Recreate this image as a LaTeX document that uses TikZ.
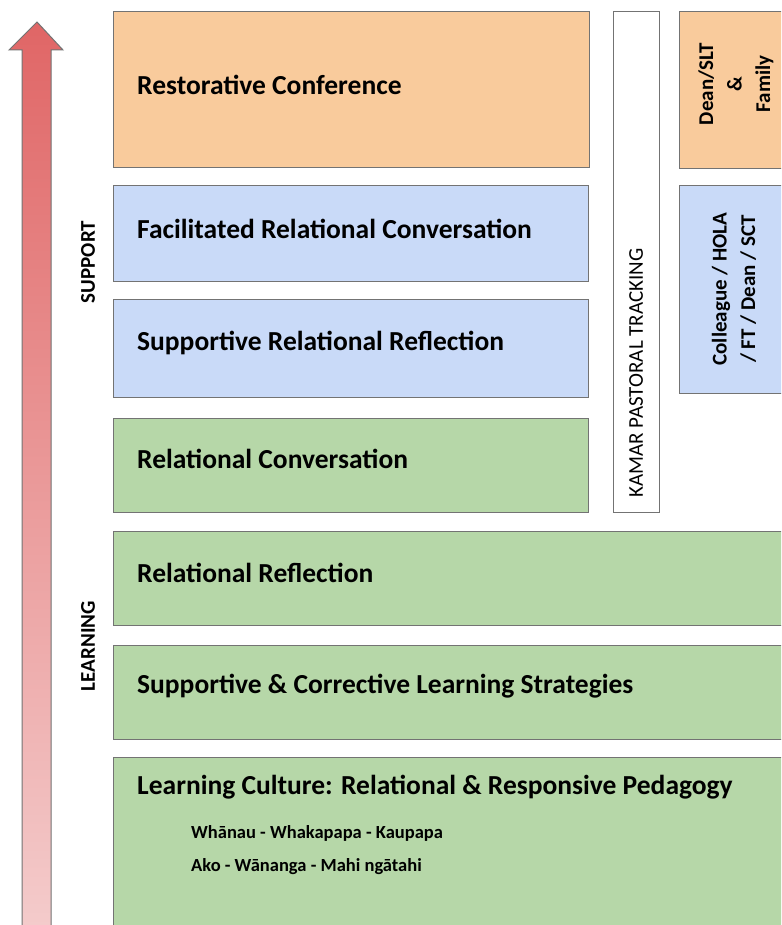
\documentclass[tikz,border=0pt]{standalone}
\usepackage{fontspec}
\setmainfont{Carlito}
\usetikzlibrary{positioning}
\definecolor{peach}{HTML}{F9CB9C}
\definecolor{skyblue}{HTML}{C9DAF8}
\definecolor{sage}{HTML}{B6D7A8}
\definecolor{rose}{HTML}{E06666}
\definecolor{blush}{HTML}{F4CCCC}
\begin{document}
\begin{tikzpicture}[x=1pt,y=-1pt,
  band/.style={draw=black!55, line width=1.2pt, anchor=north west, inner sep=0pt},
  title/.style={anchor=west, inner sep=0pt, font=\fontsize{27.5}{32}\selectfont\bfseries},
  motto/.style={anchor=west, inner sep=0pt, font=\fontsize{18.5}{22}\selectfont\bfseries},
  side/.style={rotate=90, align=center, font=\fontsize{21}{28.5}\selectfont\bfseries}]
\fill[white] (0,0) rectangle (781,925);
\path[use as bounding box, clip] (0,0) rectangle (781,925);
\shade[top color=rose, bottom color=blush, draw=black!55, line width=1pt]
  (22,935) -- (22,50) -- (9,50) -- (37,22) -- (63,50) -- (51,50) -- (51,935) -- cycle;
\node[side] (support) at (88,262) {SUPPORT};
\node[side] (learning) at (88,646) {LEARNING};
\node[band, fill=peach, minimum width=476pt, minimum height=156pt] (rc) at (113,11) {};
\node[band, fill=skyblue, minimum width=475pt, minimum height=96pt] (frc) at (113,185) {};
\node[band, fill=skyblue, minimum width=475pt, minimum height=98pt] (srr) at (113,299) {};
\node[band, fill=sage, minimum width=475pt, minimum height=94pt] (rcv) at (113,418) {};
\node[band, fill=white, minimum width=46pt, minimum height=501pt] (kamar) at (613,11) {};
\node[band, fill=peach, minimum width=130pt, minimum height=157pt] (dean) at (679,11) {};
\node[band, fill=skyblue, minimum width=130pt, minimum height=208pt] (coll) at (679,185) {};
\node[band, fill=sage, minimum width=700pt, minimum height=94pt] (rr) at (113,531) {};
\node[band, fill=sage, minimum width=700pt, minimum height=94pt] (scl) at (113,645) {};
\node[band, fill=sage, minimum width=700pt, minimum height=200pt] (lc) at (113,757) {};
\node[title] (trc) at (137,85) {Restorative Conference};
\node[title] (tfrc) at (137,229) {Facilitated Relational Conversation};
\node[title] (tsrr) at (137,343) {Supportive Relational Reflection};
\node[title] (trcv) at (137,459) {Relational Conversation};
\node[title] (trr) at (137,573) {Relational Reflection};
\node[title] (tscl) at (137,686) {Supportive \& Corrective Learning Strategies};
\node[title] (tlc) at (137,787) {Learning Culture: Relational \& Responsive Pedagogy};
\node[motto] (wh) at (191,833) {Whānau - Whakapapa - Kaupapa};
\node[motto] (ako) at (191,867) {Ako - Wānanga - Mahi ngātahi};
\node[rotate=90, font=\fontsize{21}{25}\selectfont] (tkamar) at (636,373) {KAMAR PASTORAL TRACKING};
\node[side] (tdean) at (736,84) {Dean/SLT\\\&\\Family};
\node[side] (tcoll) at (734,289) {Colleague / HOLA\\/ FT / Dean / SCT};
\end{tikzpicture}
\end{document}
